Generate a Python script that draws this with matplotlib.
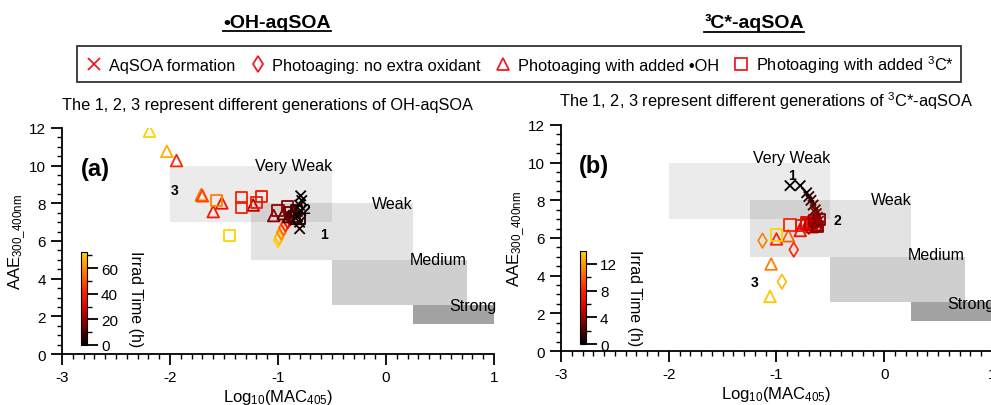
import numpy as np
import matplotlib
matplotlib.use("Agg")
import matplotlib.pyplot as plt
from matplotlib.colors import LinearSegmentedColormap, Normalize
from matplotlib.cm import ScalarMappable
from matplotlib.lines import Line2D
from matplotlib.patches import Rectangle
from matplotlib.ticker import MultipleLocator

plt.rcParams['font.family'] = ['Liberation Sans', 'DejaVu Sans']
plt.rcParams['mathtext.fontset'] = 'custom'
plt.rcParams['mathtext.rm'] = 'Liberation Sans'
plt.rcParams['mathtext.it'] = 'Liberation Sans'
plt.rcParams['axes.unicode_minus'] = False

# ---- panel (a): OH-aqSOA ----
a_form_x = [-0.79, -0.78, -0.80, -0.79, -0.82, -0.80, -0.80]
a_form_y = [8.40, 8.15, 7.90, 7.60, 7.30, 7.00, 6.65]
a_form_t = [0, 0.5, 1, 1.5, 2, 3, 4]

a_noox_x = [-1.00, -0.99, -0.97, -0.95, -0.93, -0.91, -0.89, -0.87, -0.85]
a_noox_y = [6.05, 6.20, 6.45, 6.70, 6.90, 7.05, 7.20, 7.35, 7.50]
a_noox_t = [72, 68, 60, 52, 44, 36, 28, 20, 12]

a_oh_x = [-2.19, -2.03, -1.94, -1.71, -1.70, -1.60, -1.52, -1.23, -1.04, -0.95, -0.90, -0.86, -0.83]
a_oh_y = [11.83, 10.76, 10.27, 8.46, 8.40, 7.56, 8.02, 7.91, 7.35, 7.45, 7.30, 7.60, 7.20]
a_oh_t = [72, 66, 42, 55, 48, 38, 36, 24, 18, 12, 8, 4, 2]

a_3c_x = [-1.57, -1.45, -1.34, -1.34, -1.20, -1.15, -1.00, -0.91, -0.88, -0.85, -0.83, -0.80]
a_3c_y = [8.14, 6.28, 8.32, 7.79, 8.06, 8.37, 7.61, 7.84, 7.50, 7.30, 7.60, 7.20]
a_3c_t = [58, 72, 40, 40, 38, 36, 20, 18, 14, 10, 8, 4]

# ---- panel (b): 3C*-aqSOA ----
b_form_x = [-0.875, -0.78, -0.72, -0.70, -0.68, -0.66, -0.64, -0.63, -0.62, -0.61]
b_form_y = [8.78, 8.78, 8.40, 8.20, 8.00, 7.75, 7.50, 7.30, 7.10, 6.90]
b_form_t = [0, 0, 0.5, 1, 1.5, 2, 2.5, 3, 3.5, 4]

b_noox_x = [-1.13, -0.84, -0.95, -0.70, -0.66, -0.63, -0.61]
b_noox_y = [5.86, 5.38, 3.68, 6.60, 6.80, 7.00, 6.70]
b_noox_t = [11, 8, 13, 5, 4, 3, 3.5]

b_oh_x = [-1.05, -1.06, -1.00, -0.89, -0.78, -0.75, -0.70, -0.67, -0.64, -0.62]
b_oh_y = [4.62, 2.90, 5.95, 6.12, 6.40, 6.80, 6.90, 6.60, 6.95, 6.70]
b_oh_t = [11, 13.5, 8, 10, 7, 6, 5, 4.5, 4, 3]

b_3c_x = [-1.00, -0.875, -0.77, -0.72, -0.68, -0.65, -0.62, -0.60]
b_3c_y = [6.16, 6.69, 6.65, 6.80, 6.70, 6.90, 6.60, 7.00]
b_3c_t = [14, 8, 7, 6, 5, 4, 3.5, 3]

# classification boxes
box_names = ['Very Weak', 'Weak', 'Medium', 'Strong']
box_x0 = [-2.0, -1.25, -0.5, 0.25]
box_x1 = [-0.5, 0.25, 0.75, 1.0]
box_y0 = [7.0, 5.0, 2.6, 1.6]
box_y1 = [10.0, 8.0, 5.0, 2.6]
box_alpha = [0.08, 0.11, 0.19, 0.36]

a_lab_y = [10.0, 8.0, 5.0, 2.6]
b_lab_y = [10.25, 8.07, 5.1, 2.5]

a_gen_x = [-0.57, -0.74, -1.96]
a_gen_y = [6.37, 7.70, 8.73]
b_gen_x = [-0.86, -0.44, -1.20]
b_gen_y = [9.35, 6.97, 3.68]

cmap = LinearSegmentedColormap.from_list(
    'irrad', ['#000000', '#700000', '#dd0000', '#ff2a00', '#ff8000', '#ffd400'],
)

fig = plt.figure(figsize=(9.91, 4.06), dpi=100)


def panel(rect, cbrect, vmax, cbticks, cbminor, data, lab_y, gen_x, gen_y, letter, subtitle):
    ax = fig.add_axes(rect)
    norm = Normalize(0, vmax)
    for i in range(len(box_names)):
        ax.add_patch(Rectangle((box_x0[i], box_y0[i]), box_x1[i] - box_x0[i],
                               box_y1[i] - box_y0[i], facecolor='k', alpha=box_alpha[i],
                               edgecolor='none', zorder=0))
        xt = box_x1[i] + (0.02 if i == 3 else 0)
        ax.text(xt, lab_y[i], box_names[i], ha='right', va='center', fontsize=11.5,
                clip_on=False, zorder=1)
    (fx, fy, ft), (nx, ny, nt), (ox, oy, ot), (cx, cy, ct) = data
    ax.scatter(nx, ny, marker='d', s=55, facecolors='none',
               edgecolors=cmap(norm(np.array(nt))), linewidths=1.2, zorder=3)
    ax.scatter(ox, oy, marker='^', s=70, facecolors='none',
               edgecolors=cmap(norm(np.array(ot))), linewidths=1.3, zorder=3)
    ax.scatter(cx, cy, marker='s', s=65, facecolors='none',
               edgecolors=cmap(norm(np.array(ct))), linewidths=1.3, zorder=3)
    ax.scatter(fx, fy, marker='x', s=55, c=cmap(norm(np.array(ft))), linewidths=1.3, zorder=4)
    for i, lab in enumerate(['1', '2', '3']):
        ax.text(gen_x[i], gen_y[i], lab, fontsize=10, fontweight='bold', ha='center', va='center')
    ax.text(-2.69, 9.85, letter, fontsize=17, fontweight='bold', ha='center', va='center')

    ax.set_xlim(-3, 1)
    ax.set_ylim(0, 12)
    ax.set_xticks([-3, -2, -1, 0, 1])
    ax.set_yticks(range(0, 13, 2))
    ax.xaxis.set_minor_locator(MultipleLocator(0.1))
    ax.yaxis.set_minor_locator(MultipleLocator(0.5))
    for s in ['top', 'right']:
        ax.spines[s].set_visible(False)
    for s in ['left', 'bottom']:
        ax.spines[s].set_linewidth(1.3)
    ax.tick_params(which='major', direction='out', length=8, width=1.3, labelsize=11)
    ax.tick_params(which='minor', direction='out', length=3.5, width=1.0)
    ax.set_xlabel(r'Log$_{10}$(MAC$_{405}$)', fontsize=12, labelpad=2)
    ax.set_ylabel(r'AAE$_{300\_400nm}$', fontsize=12, labelpad=1)
    ax.set_title(subtitle, fontsize=11.8, pad=14, x=0.475)

    cax = fig.add_axes(cbrect)
    cb = fig.colorbar(ScalarMappable(norm=norm, cmap=cmap), cax=cax)
    cb.set_ticks(cbticks)
    cax.yaxis.set_minor_locator(MultipleLocator(cbminor))
    cb.outline.set_linewidth(0.8)
    cax.tick_params(which='major', length=8, width=1.3, labelsize=11, pad=2)
    cax.tick_params(which='minor', length=3.5, width=1.0)
    cb.set_label('Irrad Time (h)', rotation=270, fontsize=11.5, labelpad=18)
    return ax


panel([0.0626, 0.1256, 0.4359, 0.5567], [0.0817, 0.1478, 0.0062, 0.229], 72.5,
      [0, 20, 40, 60], 10,
      [(a_form_x, a_form_y, a_form_t), (a_noox_x, a_noox_y, a_noox_t),
       (a_oh_x, a_oh_y, a_oh_t), (a_3c_x, a_3c_y, a_3c_t)],
      a_lab_y, a_gen_x, a_gen_y, '(a)',
      'The 1, 2, 3 represent different generations of OH-aqSOA')
panel([0.5661, 0.1330, 0.4349, 0.5567], [0.5853, 0.1502, 0.0062, 0.229], 13.9,
      [0, 4, 8, 12], 2,
      [(b_form_x, b_form_y, b_form_t), (b_noox_x, b_noox_y, b_noox_t),
       (b_oh_x, b_oh_y, b_oh_t), (b_3c_x, b_3c_y, b_3c_t)],
      b_lab_y, b_gen_x, b_gen_y, '(b)',
      r'The 1, 2, 3 represent different generations of $^3$C*-aqSOA')

# legend
red = '#ee1c25'
handles = [
    Line2D([], [], marker='x', ls='none', color=red, markersize=8, mew=1.3),
    Line2D([], [], marker='d', ls='none', mfc='none', mec=red, markersize=8, mew=1.3),
    Line2D([], [], marker='^', ls='none', mfc='none', mec=red, markersize=8, mew=1.3),
    Line2D([], [], marker='s', ls='none', mfc='none', mec=red, markersize=8, mew=1.3),
]
labels = ['AqSOA formation', 'Photoaging: no extra oxidant',
          'Photoaging with added •OH', r'Photoaging with added $^3$C*']
leg = fig.legend(handles, labels, loc='center', bbox_to_anchor=(0.524, 0.84), ncol=4,
                 fontsize=11.8, frameon=True, fancybox=False, edgecolor='k',
                 handletextpad=0.3, columnspacing=0.75, handlelength=1.2,
                 borderpad=0.45)
leg.get_frame().set_linewidth(1.3)

# top titles, underlined
t1 = fig.text(0.2795, 0.943, '•OH-aqSOA', ha='center', va='center',
              fontsize=14, fontweight='bold')
t2 = fig.text(0.761, 0.943, '³C*-aqSOA', ha='center', va='center',
              fontsize=14, fontweight='bold')
fig.canvas.draw()
inv = fig.transFigure.inverted()
for t in (t1, t2):
    bb = t.get_window_extent().transformed(inv)
    fig.add_artist(Line2D([bb.x0, bb.x1], [bb.y0 - 0.002, bb.y0 - 0.002],
                          color='k', lw=1.3, transform=fig.transFigure))

fig.savefig('out.png', dpi=100)
